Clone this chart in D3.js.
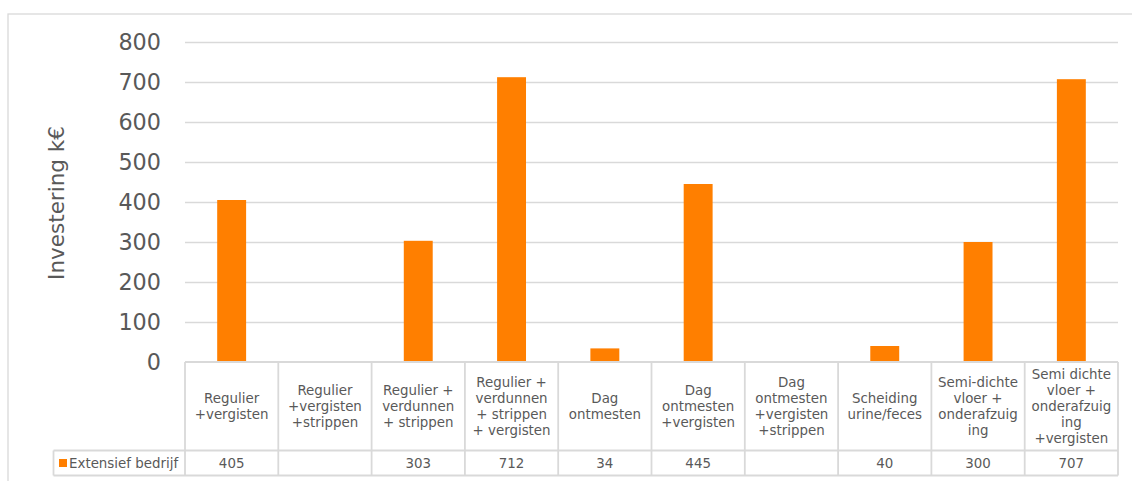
<!DOCTYPE html>
<html>
<head>
<meta charset="utf-8">
<script src="https://cdn.jsdelivr.net/npm/d3@7"></script>
<style>
html,body{margin:0;padding:0;background:#fff;}
svg{display:block;}
text{font-family:"DejaVu Sans",Verdana,sans-serif;fill:#595959;}
</style>
</head>
<body>
<svg id="chart" width="1132" height="481"></svg>
<script>
const categories = [
  "Regulier\n+vergisten",
  "Regulier\n+vergisten\n+strippen",
  "Regulier +\nverdunnen\n+ strippen",
  "Regulier +\nverdunnen\n+ strippen\n+ vergisten",
  "Dag\nontmesten",
  "Dag\nontmesten\n+vergisten",
  "Dag\nontmesten\n+vergisten\n+strippen",
  "Scheiding\nurine/feces",
  "Semi-dichte\nvloer +\nonderafzuig\ning",
  "Semi dichte\nvloer +\nonderafzuig\ning\n+vergisten"
];
const values = [405, null, 303, 712, 34, 445, null, 40, 300, 707];
const seriesName = "Extensief bedrijf";
const yTicks = [0, 100, 200, 300, 400, 500, 600, 700, 800];
const yTitle = "Investering k€";

(function () {
const svg = d3.select("#chart");
const pLeft = 185, pRight = 1118, pTop = 42, pBottom = 362;
const catBottom = 450.5, dataBottom = 475.5, legendLeft = 53.5;
const orange = "#FF7F00", grid = "#d9d9d9";
const fs = 13.4;

// outer border
svg.append("rect").attr("x", 8).attr("y", 14).attr("width", 1140).attr("height", 480)
  .attr("fill", "none").attr("stroke", grid).attr("stroke-width", 1.3);

const y = d3.scaleLinear().domain([0, 800]).range([pBottom, pTop]);
const xCol = d3.scaleBand().domain(d3.range(categories.length)).range([pLeft, pRight]).padding(0);
const xBar = d3.scaleBand().domain(d3.range(categories.length)).range([pLeft, pRight])
  .paddingInner(0.69).paddingOuter(0.345);

// gridlines
svg.append("g").selectAll("line").data(yTicks.filter(d => d > 0)).join("line")
  .attr("x1", pLeft).attr("x2", pRight)
  .attr("y1", d => Math.round(y(d)) + 0.5).attr("y2", d => Math.round(y(d)) + 0.5)
  .attr("stroke", grid).attr("stroke-width", 1.3);

// y axis labels
const yAxis = d3.axisLeft(y).tickValues(yTicks).tickSize(0).tickPadding(0);
const gy = svg.append("g").attr("transform", `translate(161,0)`).call(yAxis);
gy.select(".domain").remove();
gy.selectAll("text").attr("font-size", 22.3).attr("fill", "#595959")
  .style("font-family", '"DejaVu Sans",Verdana,sans-serif');

// y title
svg.append("text").attr("transform", `translate(64,203) rotate(-90)`)
  .attr("text-anchor", "middle").attr("font-size", 21.5).text(yTitle);

// bars
svg.append("g").selectAll("rect").data(values.map((v, i) => ({v, i})).filter(d => d.v != null)).join("rect")
  .attr("x", d => xBar(d.i)).attr("width", xBar.bandwidth())
  .attr("y", d => y(d.v)).attr("height", d => y(0) - y(d.v))
  .attr("fill", orange);

// table
const tg = svg.append("g");
const tStroke = "#d9d9d9", tw = 1.8;
tg.append("line").attr("x1", pLeft).attr("x2", pRight).attr("y1", pBottom).attr("y2", pBottom)
  .attr("stroke", tStroke).attr("stroke-width", tw);
tg.append("line").attr("x1", legendLeft).attr("x2", pRight).attr("y1", catBottom).attr("y2", catBottom)
  .attr("stroke", tStroke).attr("stroke-width", tw);
tg.append("line").attr("x1", legendLeft).attr("x2", pRight).attr("y1", dataBottom).attr("y2", dataBottom)
  .attr("stroke", tStroke).attr("stroke-width", tw);
const colEdges = d3.range(categories.length + 1).map(i => i < categories.length ? xCol(i) : pRight);
tg.selectAll("line.v").data(colEdges).join("line").attr("class", "v")
  .attr("x1", d => d).attr("x2", d => d).attr("y1", pBottom).attr("y2", dataBottom)
  .attr("stroke", tStroke).attr("stroke-width", tw);
tg.append("line").attr("x1", legendLeft).attr("x2", legendLeft).attr("y1", catBottom).attr("y2", dataBottom)
  .attr("stroke", tStroke).attr("stroke-width", tw);

// category labels
const lh = 16;
const catMid = (pBottom + catBottom) / 2;
categories.forEach((c, i) => {
  const lines = c.split("\n");
  const cx = xCol(i) + xCol.bandwidth() / 2;
  const t = svg.append("text").attr("text-anchor", "middle").attr("font-size", fs);
  lines.forEach((ln, j) => {
    t.append("tspan").attr("x", cx)
      .attr("y", catMid + (j - (lines.length - 1) / 2) * lh + 4.7).text(ln);
  });
});

// data values
const dataMid = (catBottom + dataBottom) / 2;
svg.append("g").selectAll("text").data(values.map((v, i) => ({v, i})).filter(d => d.v != null)).join("text")
  .attr("x", d => xCol(d.i) + xCol.bandwidth() / 2).attr("y", dataMid + 4.7)
  .attr("text-anchor", "middle").attr("font-size", fs).text(d => d.v);

// legend
svg.append("rect").attr("x", 59).attr("y", dataMid - 4).attr("width", 8).attr("height", 8).attr("fill", orange);
svg.append("text").attr("x", 69).attr("y", dataMid + 4.7).attr("font-size", fs).text(seriesName);
})();
</script>
</body>
</html>
